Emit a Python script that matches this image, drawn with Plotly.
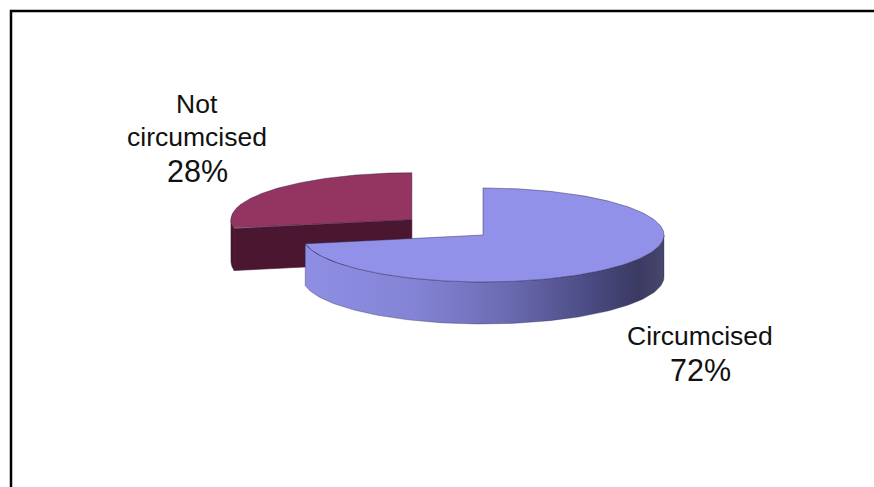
import numpy as np
import plotly.graph_objects as go

# ---- data ----
labels = ["Circumcised", "Not circumcised"]
values = [72, 28]
label_lines = [["Circumcised"], ["Not", "circumcised"]]
top_colors = ["#9191EA", "#943460"]
side_colors = ["#7878C8", "#4B1630"]
explode = [0.0, 0.51]

# ---- geometry of the 3D pie (pixel space) ----
CX, CY, RX, RY, DEPTH = 483, 235, 181, 47, 42
W, H = 874, 487

total = float(sum(values))


def pt(theta_deg, ox, oy, dz=0.0):
    t = np.radians(theta_deg)
    return ox + RX * np.cos(t), oy - RY * np.sin(t) + dz


def arc(a0, a1, ox, oy, dz=0.0, n=120):
    th = np.linspace(a0, a1, n)
    t = np.radians(th)
    return list(ox + RX * np.cos(t)), list(oy - RY * np.sin(t) + dz)


slices = []
cum = 0.0
for i, v in enumerate(values):
    a_start = 90 - 360 * cum / total
    a_end = 90 - 360 * (cum + v) / total
    cum += v
    mid = np.radians((a_start + a_end) / 2)
    ox = CX + explode[i] * RX * np.cos(mid)
    oy = CY - explode[i] * RY * np.sin(mid)
    slices.append((i, a_start, a_end, ox, oy))

fig = go.Figure()

# back-to-front: the slice whose centre is higher is drawn first
order = sorted(slices, key=lambda s: s[4])
for i, a_start, a_end, ox, oy in order:
    # outer side: visible where sin(theta) < 0
    for k in range(-2, 2):
        lo = max(a_end, -180 + 360 * k)
        hi = min(a_start, 0 + 360 * k)
        if hi - lo > 0.01:
            xt, yt = arc(hi, lo, ox, oy)
            xb, yb = arc(lo, hi, ox, oy, DEPTH)
            xs = xt + xb + [xt[0]]
            ys = yt + yb + [yt[0]]
            if i == 0:
                kw = dict(fillgradient=dict(
                    type="horizontal",
                    colorscale=[[0, "#8E8EE4"], [0.3, "#8484D6"],
                                [0.55, "#6C6CB4"], [0.8, "#4A4A82"],
                                [0.93, "#3A3A62"], [1, "#48486E"]]))
            else:
                kw = dict(fillcolor=side_colors[i])
            fig.add_trace(go.Scatter(x=xs, y=ys, mode="lines", fill="toself",
                                     line=dict(width=0.6, color="rgba(30,30,50,0.5)"),
                                     hoverinfo="skip", showlegend=False, **kw))
    # radial faces
    for a, vis in ((a_start, np.cos(np.radians(a_start)) < -1e-6),
                   (a_end, np.cos(np.radians(a_end)) > 1e-6)):
        if vis:
            ex, ey = pt(a, ox, oy)
            xs = [ox, ex, ex, ox, ox]
            ys = [oy, ey, ey + DEPTH, oy + DEPTH, oy]
            fig.add_trace(go.Scatter(x=xs, y=ys, mode="lines", fill="toself",
                                     fillcolor=side_colors[i],
                                     line=dict(width=0.6, color=side_colors[i]),
                                     hoverinfo="skip", showlegend=False))
    # top face
    xa, ya = arc(a_start, a_end, ox, oy, n=240)
    xs = [ox] + xa + [ox]
    ys = [oy] + ya + [oy]
    fig.add_trace(go.Scatter(x=xs, y=ys, mode="lines", fill="toself",
                             fillcolor=top_colors[i],
                             line=dict(width=0.8, color="rgba(40,30,70,0.55)"),
                             hoverinfo="skip", showlegend=False,
                             name=labels[i]))

# ---- labels ----
label_pos = {0: (700, 336, 370), 1: (197, [104, 137], 171)}
annotations = []
for i in range(len(values)):
    x, ys_name, y_pct = label_pos[i]
    if not isinstance(ys_name, list):
        ys_name = [ys_name]
    for line, yy in zip(label_lines[i], ys_name):
        annotations.append(dict(x=x, y=yy, xref="x", yref="y", text=line,
                                showarrow=False, xanchor="center", yanchor="middle",
                                font=dict(size=26.5, color="#111111")))
    annotations.append(dict(x=x, y=y_pct, xref="x", yref="y",
                            text=f"{values[i]}%", showarrow=False,
                            xanchor="center", yanchor="middle",
                            font=dict(size=30.5, color="#111111")))

fig.update_layout(
    width=W, height=H,
    margin=dict(l=0, r=0, t=0, b=0),
    paper_bgcolor="white", plot_bgcolor="white",
    font=dict(family="Liberation Sans, Arial, sans-serif"),
    xaxis=dict(range=[0, W], visible=False, fixedrange=True),
    yaxis=dict(range=[H, 0], visible=False, fixedrange=True),
    annotations=annotations,
    shapes=[dict(type="rect", xref="x", yref="y", x0=11, y0=11, x1=W + 10, y1=H + 10,
                 line=dict(color="black", width=2.5), layer="above")],
    showlegend=False,
)

fig.write_html("out.html")
